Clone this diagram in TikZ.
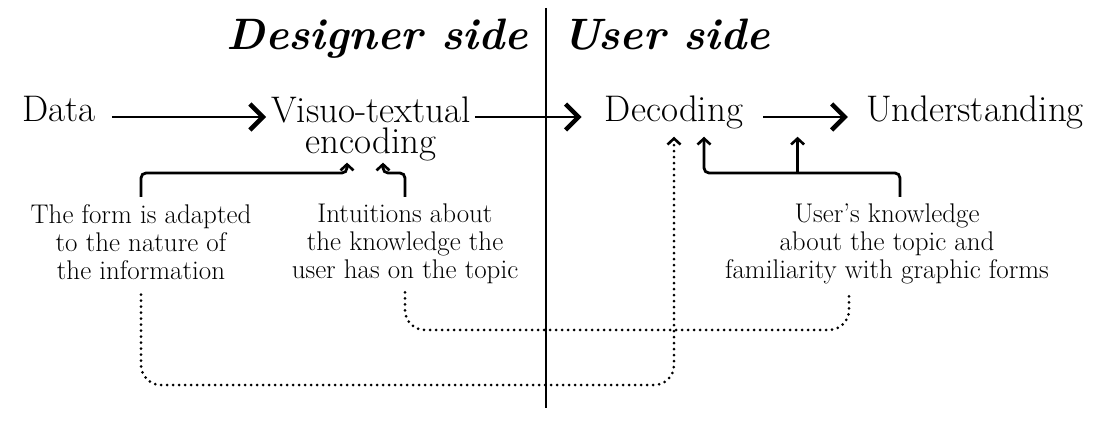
\documentclass[tikz,border=0pt]{standalone}
\usetikzlibrary{arrows.meta,calc}
\begin{document}
\begin{tikzpicture}
[x=1pt,y=1pt,inner sep=0pt,
side/.style={font=\fontsize{44}{50}\selectfont\bfseries\itshape},
stage/.style={font=\fontsize{37}{31}\selectfont,align=center},
note/.style={font=\fontsize{27}{28}\selectfont,align=center},
divider/.style={draw, line width=2pt},
flow/.style={draw, line width=2.2pt, -{Straight Barb[length=13pt,width=26pt,line width=4.5pt]}},
feed/.style={draw, line width=2.8pt, rounded corners=5pt, -{Straight Barb[length=6pt,width=13pt,line width=2.6pt]}},
hint/.style={draw, line width=3pt, line cap=round, dash pattern=on 0pt off 6pt, rounded corners=20pt}]
\useasboundingbox (0,0) rectangle (1114,-446);

\node[side,anchor=base east] (designer) at (528,-50) {Designer side};
\node[side,anchor=base west] (user) at (562,-50) {User side};
\coordinate (top) at (546,-8);
\coordinate (bottom) at (546,-408);

\node[stage,anchor=base] (data) at (59,-122) {Data};
\node[stage,anchor=north] (enc) at (371,-97) {Visuo-textual\\encoding};
\node[stage,anchor=base] (dec) at (674,-122) {Decoding};
\node[stage,anchor=base] (und) at (975,-122) {Understanding};

\node[note,anchor=north] (form) at (141,-204) {The form is adapted\\to the nature of\\the information};
\node[note,anchor=north] (intu) at (405,-204) {Intuitions about\\the knowledge the\\user has on the topic};
\node[note,anchor=north] (know) at (887,-204) {User's knowledge\\about the topic and\\familiarity with graphic forms};

\coordinate (axis) at (0,-117);
\coordinate (bar) at (0,-173);
\coordinate (mid) at (0,-330);
\coordinate (low) at (0,-385);
\coordinate (encin1) at ([xshift=-24pt,yshift=-1pt]enc.south);
\coordinate (encin2) at ([xshift=12pt,yshift=-1pt]enc.south);
\coordinate (decin) at ([xshift=30pt,yshift=-7pt]dec.south);
\coordinate (decdot) at ([yshift=-7pt]dec.south);
\coordinate (undin) at ($(dec.east)!0.5!(und.west)+(-7,0)$);
\coordinate (knowtop) at ([xshift=13pt,yshift=7pt]know.north);
\coordinate (knowbot) at ([xshift=-38pt,yshift=-8pt]know.south);

% divider
\draw [divider] (top) -- (bottom);

% main line
\draw [flow,shorten <=16pt,shorten >=5pt] (data.east |- axis) -- (enc.west |- axis);
\draw [flow,shorten <=4pt,shorten >=23pt] (enc.east |- axis) -- (dec.west |- axis);
\draw [flow,shorten <=20pt,shorten >=18pt] (dec.east |- axis) -- (und.west |- axis);

% designer inputs
\draw [feed] ([yshift=7pt]form.north) -- (form.north |- bar) -- (encin1 |- bar) -- (encin1);
\draw [feed] ([yshift=7pt]intu.north) -- (intu.north |- bar) -- (encin2 |- bar) -- (encin2);

% user inputs
\draw [feed] (knowtop) -- (knowtop |- bar) -- (decin |- bar) -- (decin);
\draw [feed] (undin |- bar) -- (undin |- decin);

% dotted links
\draw [hint,-{Straight Barb[length=6pt,width=13pt,line width=2.6pt]}] ([yshift=-15pt]form.south) -- (form.south |- low) -- (decdot |- low) -- (decdot);
\draw [hint] ([yshift=-8pt]intu.south) -- (intu.south |- mid) -- (knowbot |- mid) -- (knowbot);
\end{tikzpicture}
\end{document}
